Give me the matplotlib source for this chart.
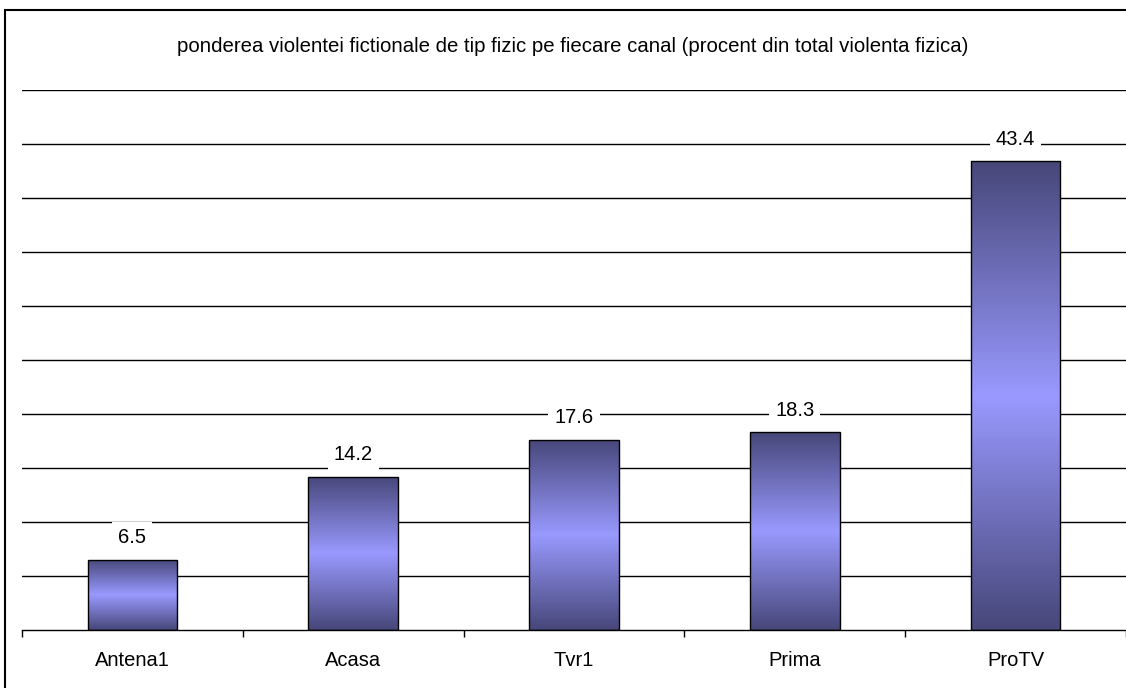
import numpy as np
import matplotlib
matplotlib.use('Agg')
import matplotlib.pyplot as plt
from matplotlib.colors import LinearSegmentedColormap
from matplotlib.patches import Rectangle

channels = ['Antena1', 'Acasa', 'Tvr1', 'Prima', 'ProTV']
values = [6.5, 14.2, 17.6, 18.3, 43.4]
title = 'ponderea violentei fictionale de tip fizic pe fiecare canal (procent din total violenta fizica)'

plt.rcParams['font.family'] = ['Liberation Sans', 'DejaVu Sans']

fig = plt.figure(figsize=(11.26, 6.88), dpi=100)
ax = fig.add_axes([22/1126, 1 - 630/688, 1104/1126, 540/688])

# border round the whole chart (cut off on the right and bottom like the source)
fig.patches.append(Rectangle((5/1126, -0.05), 1.1, 1 - 10/688 + 0.05,
                             transform=fig.transFigure, fill=False,
                             edgecolor='black', linewidth=1.5))

fig.text(0.509, 1 - 47/688, title, ha='center', va='center', fontsize=14.7)

# vertical gradient: dark at top and bottom, light in the middle
grad = LinearSegmentedColormap.from_list('bar', ['#47477a', '#9999ff', '#47477a'])
x = np.arange(len(channels))
width = 0.405
bars = ax.bar(x, values, width, color='none', edgecolor='black', linewidth=1, zorder=3)
for b in bars:
    x0, y0 = b.get_x(), b.get_y()
    w, h = b.get_width(), b.get_height()
    img = ax.imshow(np.linspace(0, 1, 256).reshape(-1, 1), cmap=grad, aspect='auto',
                    extent=[x0, x0 + w, y0, y0 + h], origin='lower', zorder=2)
    img.set_clip_path(b)

for xi, v in zip(x, values):
    ax.annotate(f'{v}', (xi, v), xytext=(0, 16), textcoords='offset points',
                ha='center', va='center', fontsize=14.5, zorder=4,
                bbox=dict(boxstyle='square,pad=0.3', fc='white', ec='none'))

ax.set_xlim(-0.5, len(channels) - 0.5)
ax.set_ylim(0, 50)
ax.set_yticks(np.arange(5, 51, 5))
ax.yaxis.grid(True, color='black', linewidth=1)
ax.set_axisbelow(True)
ax.tick_params(axis='y', left=False, labelleft=False)

ax.set_xticks(x)
ax.set_xticklabels(channels, fontsize=14.5)
ax.set_xticks(np.arange(-0.5, len(channels)), minor=True)
ax.tick_params(axis='x', which='major', length=0, pad=15)
ax.tick_params(axis='x', which='minor', length=5, width=1, color='black')

for s in ['left', 'right', 'top']:
    ax.spines[s].set_visible(False)
ax.spines['bottom'].set_linewidth(1)

fig.savefig('out.png', dpi=100)
